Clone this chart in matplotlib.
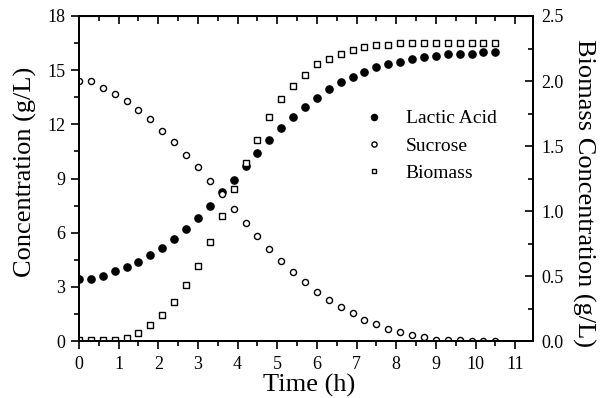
import matplotlib
matplotlib.use("Agg")
import matplotlib.pyplot as plt
from matplotlib.ticker import MultipleLocator

plt.rcParams['font.family'] = ['Liberation Serif', 'DejaVu Serif']

# sampling times (h)
time_h = [0.0, 0.3, 0.6, 0.9, 1.2, 1.5, 1.8, 2.1, 2.4, 2.7, 3.0, 3.3,
          3.6, 3.9, 4.2, 4.5, 4.8, 5.1, 5.4, 5.7, 6.0, 6.3, 6.6, 6.9,
          7.2, 7.5, 7.8, 8.1, 8.4, 8.7, 9.0, 9.3, 9.6, 9.9, 10.2, 10.5]

# lactic acid (g/L)
lactic = [3.43, 3.43, 3.62, 3.86, 4.12, 4.39, 4.76, 5.15, 5.65, 6.20, 6.84, 7.49,
          8.27, 8.92, 9.71, 10.40, 11.13, 11.80, 12.40, 12.97, 13.47, 13.93, 14.32, 14.63,
          14.91, 15.18, 15.33, 15.48, 15.61, 15.74, 15.79, 15.87, 15.92, 15.92, 15.98, 15.98]

# sucrose (g/L)
sucrose = [14.38, 14.38, 14.04, 13.67, 13.27, 12.77, 12.29, 11.65, 11.02, 10.32, 9.63, 8.86,
           8.15, 7.32, 6.56, 5.79, 5.09, 4.43, 3.82, 3.29, 2.73, 2.29, 1.89, 1.54,
           1.19, 0.93, 0.69, 0.49, 0.36, 0.23, 0.08, 0.04, 0.03, 0.02, 0.02, 0.01]

# biomass (g/L, right axis)
biomass = [0.01, 0.01, 0.01, 0.01, 0.025, 0.063, 0.12, 0.20, 0.30, 0.43, 0.58, 0.76,
           0.96, 1.17, 1.37, 1.55, 1.72, 1.86, 1.96, 2.05, 2.13, 2.17, 2.21, 2.24,
           2.26, 2.275, 2.28, 2.29, 2.295, 2.295, 2.295, 2.295, 2.295, 2.295, 2.295, 2.295]

fig = plt.figure(figsize=(6.09, 3.98), dpi=100)
ax = fig.add_axes([0.1297, 0.1432, 0.7455, 0.8166])
ax2 = ax.twinx()

l1, = ax.plot(time_h, lactic, 'o', color='black', markersize=5.2, linestyle='none',
              label='Lactic Acid')
l2, = ax.plot(time_h, sucrose, 'o', markerfacecolor='white', markeredgecolor='black',
              markeredgewidth=1.0, markersize=4.4, linestyle='none', label='Sucrose')
l3, = ax2.plot(time_h, biomass, 's', markerfacecolor='white', markeredgecolor='black',
               markeredgewidth=1.0, markersize=4.0, linestyle='none', label='Biomass')

ax.set_xlim(0, 11.45)
ax.set_ylim(0, 18)
ax2.set_ylim(0, 2.5)

ax.xaxis.set_major_locator(MultipleLocator(1))
ax.xaxis.set_minor_locator(MultipleLocator(0.5))
ax.yaxis.set_major_locator(MultipleLocator(3))
ax.yaxis.set_minor_locator(MultipleLocator(1.5))
ax2.yaxis.set_major_locator(MultipleLocator(0.5))
ax2.yaxis.set_minor_locator(MultipleLocator(0.25))
ax2.yaxis.set_major_formatter(plt.FormatStrFormatter('%.1f'))

ax.tick_params(axis='x', which='both', direction='out', top=False, labelsize=13, pad=5)
ax.tick_params(axis='x', which='major', length=6, width=1.2)
ax.tick_params(axis='x', which='minor', length=3.5, width=1.2)
ax.tick_params(axis='y', which='both', direction='out', labelsize=13, pad=4)
ax.tick_params(axis='y', which='major', length=6, width=1.2)
ax.tick_params(axis='y', which='minor', length=3.5, width=1.2)
ax2.tick_params(axis='y', which='both', direction='in', labelsize=13, pad=6)
ax2.tick_params(axis='y', which='major', length=6, width=1.2)
ax2.tick_params(axis='y', which='minor', length=3.5, width=1.2)

# top ticks pointing inward
top = ax.secondary_xaxis('top')
top.xaxis.set_major_locator(MultipleLocator(1))
top.xaxis.set_minor_locator(MultipleLocator(0.5))
top.tick_params(which='both', direction='in', labeltop=False, width=1.2)
top.tick_params(which='major', length=6)
top.tick_params(which='minor', length=3.5)

for a in (ax, ax2):
    for s in a.spines.values():
        s.set_linewidth(1.4)

ax.set_xlabel('Time (h)', fontsize=19)
ax.xaxis.label.set_va('baseline')
ax.xaxis.set_label_coords(0.507, -0.157)
ax.set_ylabel('Concentration (g/L)', fontsize=19, ha='center', va='center')
ax.yaxis.set_label_coords(-0.119, 0.52)
ax2.set_ylabel('Biomass Concentration (g/L)', fontsize=19, rotation=270,
               ha='center', va='center')
ax2.yaxis.set_label_coords(1.112, 0.455)

ax.legend([l1, l2, l3], ['Lactic Acid', 'Sucrose', 'Biomass'], loc='upper left',
          bbox_to_anchor=(0.595, 0.765), frameon=False, fontsize=14,
          handlelength=0.8, handletextpad=1.2, labelspacing=0.5, markerscale=0.85)

fig.savefig('out.png', dpi=100)
